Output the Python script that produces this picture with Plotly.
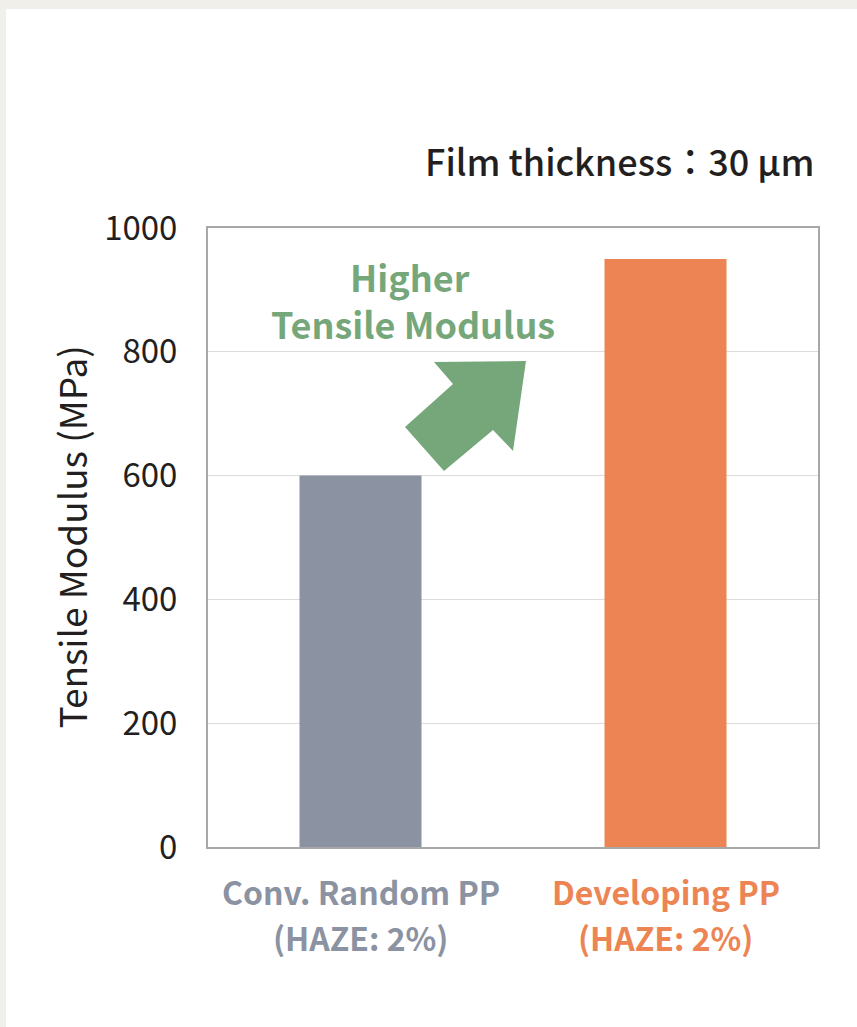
import plotly.graph_objects as go

categories = ["Conv. Random PP", "Developing PP"]
label_line1 = ["Conv. Random PP", "Developing PP"]
label_line2 = ["(HAZE: 2%)", "(HAZE: 2%)"]
values = [600, 950]
colors = ["#8b92a2", "#ec8553"]
y_ticks = [0, 200, 400, 600, 800, 1000]

W, H = 857, 1027
L, R, T, B = 208, 39, 228, 180
PW, PH = W - L - R, H - T - B

def px(x):
    return (x - L) / PW

def py(y):
    return (H - B - y) / PH

FONT = "Noto Sans CJK JP, Noto Sans, sans-serif"

fig = go.Figure(go.Bar(x=categories, y=values, marker=dict(color=colors, line=dict(width=0)),
                       width=0.4, showlegend=False))

# white panel on gray page
shapes = [dict(type="rect", xref="paper", yref="paper", x0=px(6), y0=py(H + 5), x1=px(W + 5), y1=py(9),
               fillcolor="white", line=dict(width=0), layer="below")]

# arrow
pts = [(434, 362), (526, 361), (513, 451), (493, 430), (444, 471), (405, 427), (453, 384)]
path = "M " + " L ".join(f"{px(a):.5f},{py(b):.5f}" for a, b in pts) + " Z"
shapes.append(dict(type="path", xref="paper", yref="paper", path=path,
                   fillcolor="#76a77a", line=dict(width=0), layer="above"))

annotations = [
    dict(text="Film thickness：30 µm", xref="paper", yref="paper", x=px(816), y=py(160),
         xanchor="right", yanchor="middle", showarrow=False,
         font=dict(family=FONT, size=36, weight=500, color="#231f20")),
    dict(text="<b>Higher</b>", xref="paper", yref="paper", x=px(410), y=py(276),
         xanchor="center", yanchor="middle", showarrow=False,
         font=dict(family=FONT, size=36, color="#76a77a")),
    dict(text="<b>Tensile Modulus</b>", xref="paper", yref="paper", x=px(413), y=py(323),
         xanchor="center", yanchor="middle", showarrow=False,
         font=dict(family=FONT, size=36, color="#76a77a")),
    dict(text="Tensile Modulus (MPa)", xref="paper", yref="paper", x=px(70), y=0.5,
         xanchor="center", yanchor="middle", showarrow=False, textangle=-90,
         font=dict(family=FONT, size=37, color="#231f20")),
]
for c, l1, l2, col in zip(categories, label_line1, label_line2, colors):
    annotations.append(dict(text=f"<b>{l1}</b>", x=c, xref="x", yref="paper", y=py(891),
                            xanchor="center", yanchor="middle", showarrow=False,
                            font=dict(family=FONT, size=32, color=col)))
    annotations.append(dict(text=f"<b>{l2}</b>", x=c, xref="x", yref="paper", y=py(937),
                            xanchor="center", yanchor="middle", showarrow=False,
                            font=dict(family=FONT, size=32, color=col)))

fig.update_layout(
    width=W, height=H,
    margin=dict(l=L, r=R, t=T, b=B, pad=0),
    paper_bgcolor="#f0efea", plot_bgcolor="white",
    shapes=shapes, annotations=annotations,
    xaxis=dict(range=[-0.5, 1.5], showticklabels=False, ticks="", showgrid=False,
               showline=True, mirror=True, linecolor="#a8a8a8", linewidth=2, zeroline=False),
    yaxis=dict(range=[0, 1000], tickvals=y_ticks, showgrid=True, gridcolor="#dcdcdc", gridwidth=1,
               showline=True, mirror=True, linecolor="#a8a8a8", linewidth=2, zeroline=False,
               ticks="", ticklabelstandoff=22,
               tickfont=dict(family=FONT, size=33, color="#231f20")),
)

fig.write_html("out.html", config={"displayModeBar": False},
               post_script="document.body.style.margin='0';document.body.style.overflow='hidden';")
